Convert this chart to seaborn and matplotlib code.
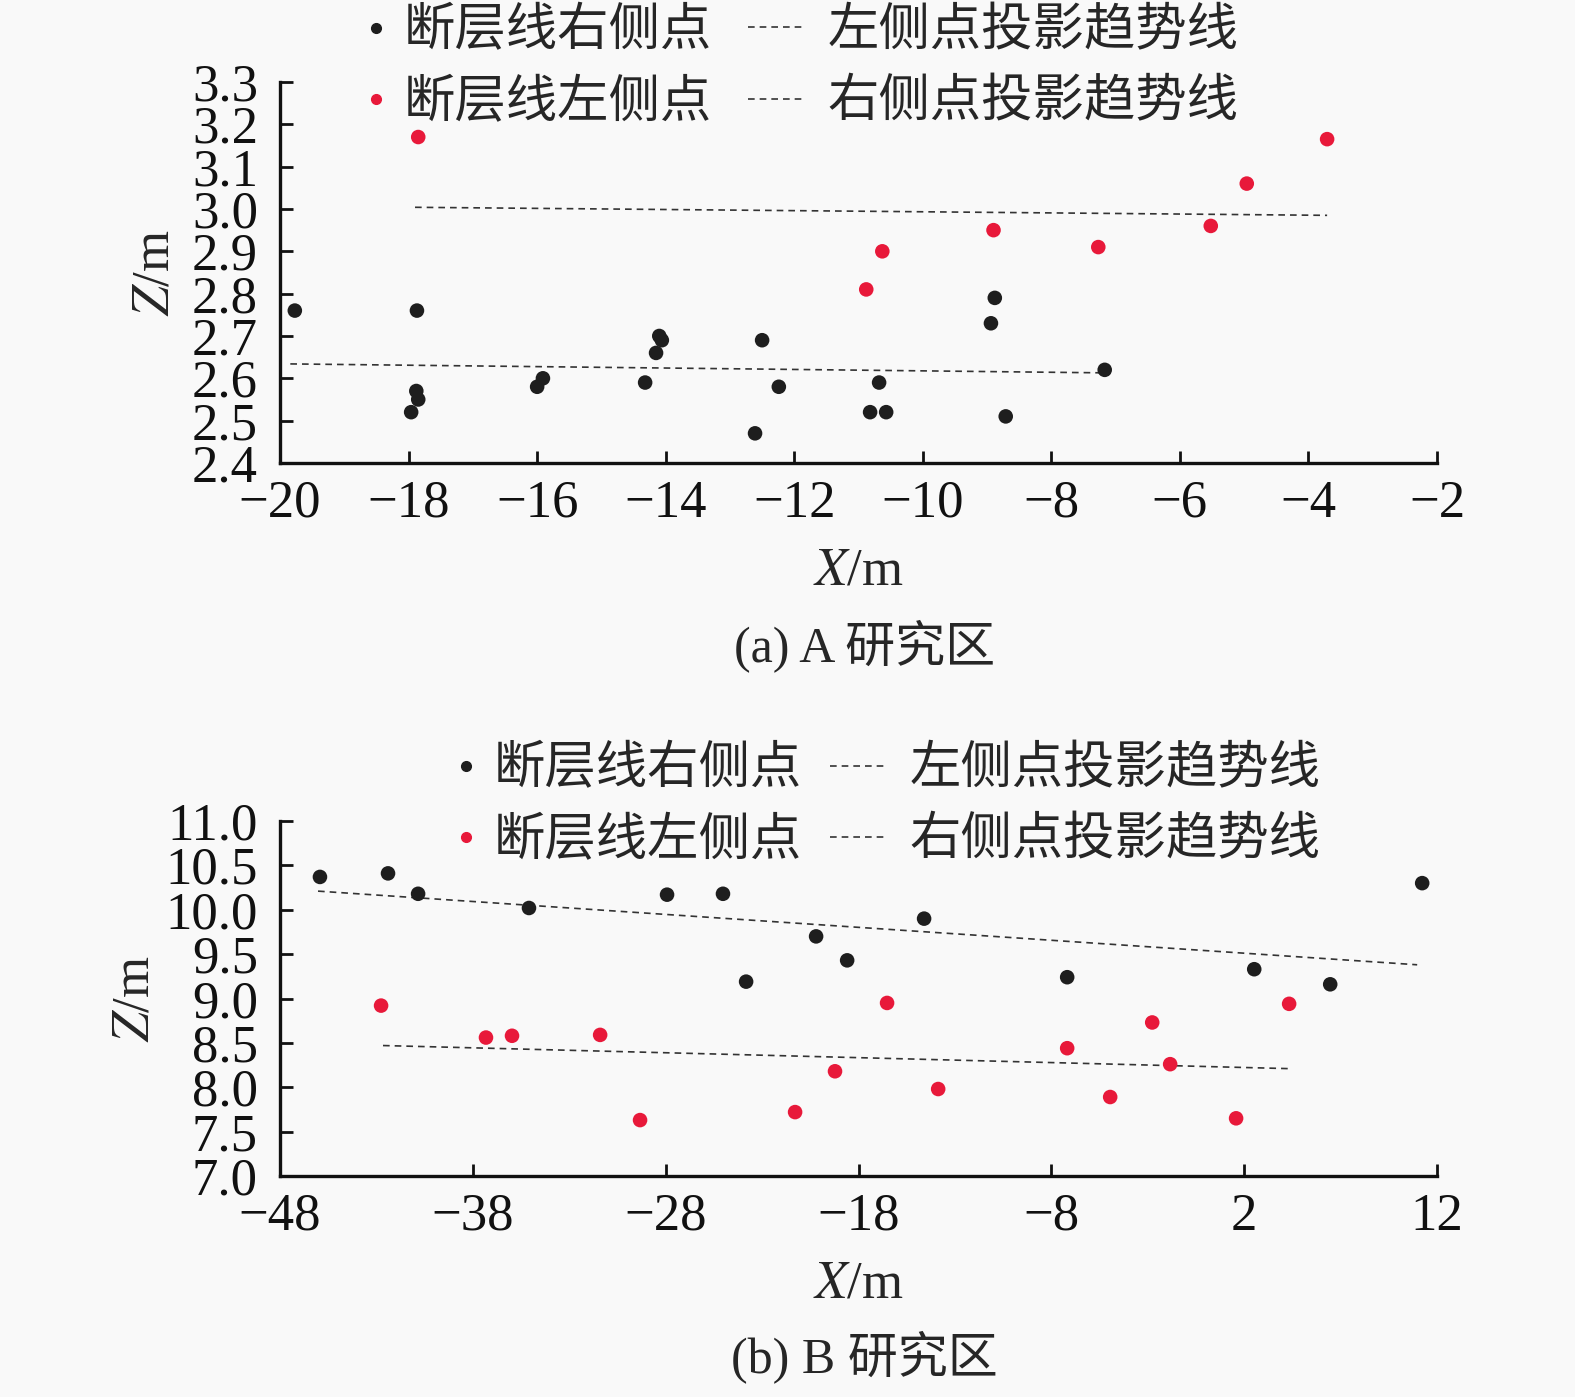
import matplotlib
matplotlib.use("Agg")
import matplotlib.pyplot as plt
import seaborn as sns
from matplotlib.lines import Line2D

# ---- (a) A study area ----
a_right_x = [-19.77, -17.87, -17.88, -17.85, -17.96, -15.91, -16.00, -14.32, -14.10, -14.06,
             -14.15, -12.50, -12.24, -12.61, -10.68, -10.82, -10.57, -8.88, -8.94, -8.71, -7.17]
a_right_z = [2.76, 2.76, 2.57, 2.55, 2.52, 2.60, 2.58, 2.59, 2.70, 2.69,
             2.66, 2.69, 2.58, 2.47, 2.59, 2.52, 2.52, 2.79, 2.73, 2.51, 2.62]
a_left_x = [-17.85, -10.88, -10.63, -8.90, -7.27, -5.52, -4.96, -3.71]
a_left_z = [3.17, 2.81, 2.90, 2.95, 2.91, 2.96, 3.06, 3.165]
a_trend1_x = [-17.9, -3.71]
a_trend1_z = [3.004, 2.985]
a_trend2_x = [-19.84, -7.24]
a_trend2_z = [2.634, 2.613]

# ---- (b) B study area ----
b_right_x = [-45.93, -42.40, -40.84, -35.09, -27.93, -25.03, -23.83, -20.20, -18.59, -14.60,
             -7.18, 2.52, 6.46, 11.23]
b_right_z = [10.37, 10.41, 10.18, 10.02, 10.17, 10.18, 9.19, 9.70, 9.43, 9.90,
             9.24, 9.33, 9.16, 10.30]
b_left_x = [-42.76, -37.32, -35.97, -31.40, -29.33, -21.29, -19.22, -16.52, -13.87, -7.18,
            -4.95, -2.77, -1.84, 1.58, 4.33]
b_left_z = [8.92, 8.56, 8.58, 8.59, 7.63, 7.72, 8.18, 8.95, 7.98, 8.44,
            7.89, 8.73, 8.26, 7.65, 8.94]
b_trend1_x = [-46.03, 10.97]
b_trend1_z = [10.21, 9.38]
b_trend2_x = [-42.66, 4.28]
b_trend2_z = [8.47, 8.21]

point_labels = ["断层线右侧点", "断层线左侧点"]
line_labels = ["左侧点投影趋势线", "右侧点投影趋势线"]

sns.set_style("ticks")
plt.rcParams["font.family"] = ["Liberation Serif", "Noto Sans CJK SC"]
plt.rcParams["mathtext.fontset"] = "stix"
plt.rcParams["axes.unicode_minus"] = True

BG = "#f9f9f9"
BLACK = "#1e1e1e"
RED = "#e8193a"
DASH = (0, (4, 3))

fig = plt.figure(figsize=(15.75, 13.97), dpi=100, facecolor=BG)
ax1 = fig.add_axes([0.1778, 0.6686, 0.7346, 0.2727])
ax2 = fig.add_axes([0.1778, 0.1582, 0.7346, 0.2541])


def draw(ax, rx, rz, lx, lz, t1x, t1z, t2x, t2z):
    ax.set_facecolor(BG)
    sns.scatterplot(x=rx, y=rz, ax=ax, color=BLACK, s=110, edgecolor="none", zorder=3)
    sns.scatterplot(x=lx, y=lz, ax=ax, color=RED, s=110, edgecolor="none", zorder=3)
    sns.lineplot(x=t1x, y=t1z, ax=ax, color="#333333", lw=1.2, zorder=2)
    sns.lineplot(x=t2x, y=t2z, ax=ax, color="#333333", lw=1.2, zorder=2)
    for ln in ax.lines[-2:]:
        ln.set_linestyle(DASH)
    sns.despine(ax=ax)
    for sp in ["left", "bottom"]:
        ax.spines[sp].set_linewidth(2.4)
        ax.spines[sp].set_color("#111111")
    ax.tick_params(direction="in", length=9, width=2, labelsize=38, colors="#111111")
    ax.tick_params(axis="y", pad=16)
    ax.tick_params(axis="x", pad=12)


draw(ax1, a_right_x, a_right_z, a_left_x, a_left_z, a_trend1_x, a_trend1_z, a_trend2_x, a_trend2_z)
ax1.set_xlim(-20, -2)
ax1.set_ylim(2.4, 3.3)
ax1.set_xticks(range(-20, -1, 2))
ax1.set_yticks([2.4 + 0.1 * i for i in range(10)])
ax1.set_yticklabels([f"{2.4 + 0.1 * i:.1f}" for i in range(10)])

draw(ax2, b_right_x, b_right_z, b_left_x, b_left_z, b_trend1_x, b_trend1_z, b_trend2_x, b_trend2_z)
ax2.set_xlim(-48, 12)
ax2.set_ylim(7.0, 11.0)
ax2.set_xticks(range(-48, 13, 10))
ax2.set_yticks([7.0 + 0.5 * i for i in range(9)])
ax2.set_yticklabels([f"{7.0 + 0.5 * i:.1f}" for i in range(9)])

ax1.set_xlabel("$X$/m", fontsize=38, labelpad=14)
ax2.set_xlabel("$X$/m", fontsize=38, labelpad=14)
ax1.set_ylabel("$Z$/m", fontsize=38, labelpad=9)
ax2.set_ylabel("$Z$/m", fontsize=38, labelpad=4)

fig.text(0.549, 0.5375, "(a) A 研究区", ha="center", va="center", fontsize=36)
fig.text(0.549, 0.0285, "(b) B 研究区", ha="center", va="center", fontsize=36)

dot_handles = [
    Line2D([], [], ls="none", marker="o", ms=7, color=BLACK),
    Line2D([], [], ls="none", marker="o", ms=7, color=RED),
]
line_handles = [
    Line2D([], [], color="#333333", lw=1.2, ls=DASH),
    Line2D([], [], color="#333333", lw=1.2, ls=DASH),
]
# (y centre, x of dot handle, x of line handle) for each panel
for cy, dx, lx in [(0.9513, 0.2305, 0.4749), (0.4230, 0.2876, 0.527)]:
    fig.legend(dot_handles, point_labels, loc="center left", bbox_to_anchor=(dx, cy),
               frameon=False, fontsize=37, handlelength=0.5, handletextpad=0.3,
               labelspacing=0.45, borderpad=0, borderaxespad=0)
    fig.legend(line_handles, line_labels, loc="center left", bbox_to_anchor=(lx, cy),
               frameon=False, fontsize=37, handlelength=1.1, handletextpad=0.45,
               labelspacing=0.45, borderpad=0, borderaxespad=0)

fig.savefig("out.png", dpi=100, facecolor=BG)
